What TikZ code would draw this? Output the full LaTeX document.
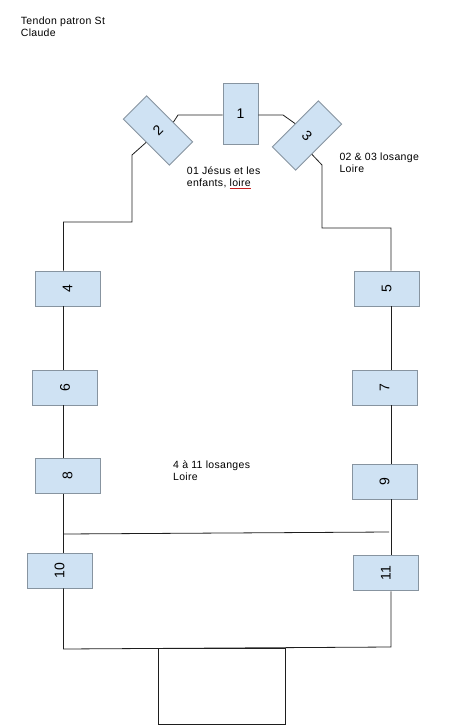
\documentclass[tikz,border=0pt]{standalone}
\usepackage{fontspec}
\usetikzlibrary{calc}
\setmainfont{Liberation Sans}
\newfontfamily\lblfont{Liberation Sans}[LetterSpace=3]
\definecolor{boxfill}{RGB}{207,226,243}
\definecolor{boxborder}{RGB}{135,148,160}
\definecolor{wirecol}{RGB}{30,30,30}
\definecolor{squig}{RGB}{200,30,30}
\begin{document}
\begin{tikzpicture}[x=1pt,y=-1pt,
  box/.style={draw=boxborder, fill=boxfill, line width=0.9pt, inner sep=0pt, font=\fontsize{14}{16}\selectfont},
  vbox/.style={box, minimum width=65pt, minimum height=35pt},
  pbox/.style={box, minimum width=33pt, minimum height=65pt},
  wire/.style={draw=wirecol, line width=0.8pt},
  lbl/.style={anchor=north west, inner sep=0pt, align=left, font=\lblfont\fontsize{10.5}{12}\selectfont}]
\useasboundingbox (0,0) rectangle (465,725);

% top boxes
\node[box, minimum width=35pt, minimum height=61pt] (b1) at (240.5,113.5) {1};
\node[pbox, rotate=45] (b2) at (158,130.5) {2};
\node[pbox, rotate=-45] (b3) at (307,135.5) {3};

% side boxes
\node[vbox] (b4) at (67.5,288.5) {\rotatebox{90}{4}};
\node[vbox] (b5) at (386.7,288.5) {\rotatebox{90}{5}};
\node[vbox] (b6) at (65,387.5) {\rotatebox{90}{6}};
\node[vbox] (b7) at (384.5,387.5) {\rotatebox{90}{7}};
\node[vbox] (b8) at (67.5,476) {\rotatebox{90}{8}};
\node[vbox] (b9) at (384.5,481.5) {\rotatebox{90}{9}};
\node[vbox] (b10) at (59.5,570.5) {\rotatebox{90}{10}};
\node[vbox] (b11) at (385.8,573.3) {\rotatebox{90}{11}};

% bottom rectangle
\node[draw=wirecol, line width=0.8pt, minimum width=127pt, minimum height=76pt, inner sep=0pt] (b12) at (221.5,686) {};

% helper coordinates
\coordinate (L) at (63.5,0);
\coordinate (R) at (391,0);
\coordinate (k1) at (178,115);
\coordinate (k2) at (132,155);
\coordinate (h2) at (132,222);
\coordinate (k3) at (283,115);
\coordinate (k4) at (322,165);
\coordinate (h3) at (322,228);
\coordinate (CL) at (63.5,534);
\coordinate (CR) at (389,532);
\coordinate (BL) at (63.5,649);
\coordinate (BR) at (391,647);

% connectors
\draw[wire] ($(b2.east)!0.15!(b2.south east)$) -- (k1) -- (k1 -| b1.west);
\draw[wire] (b1.east |- k3) -- (k3) -- (b3.west);
\draw[wire] (b2.west) -- (k2) -- (h2) -- (h2 -| L) -- (b4.north -| L);
\draw[wire] ($(b3.east)!0.3!(b3.south east)$) -- (k4) -- (h3) -- (h3 -| R) -- (b5.north -| R);
\draw[wire] (b4.south -| L) -- (b6.north -| L);
\draw[wire] (b6.south -| L) -- (b8.north -| L);
\draw[wire] (b8.south -| L) -- (b10.north -| L);
\draw[wire] (b5.south -| R) -- (b7.north -| R);
\draw[wire] (b7.south -| R) -- (b9.north -| R);
\draw[wire] (b9.south -| R) -- (b11.north -| R);
\draw[wire] (CL) -- (CR);
\draw[wire] (b10.south -| L) -- (BL) -- (BR) -- (b11.south -| R);

% labels
\node[lbl] (t0) at (20.7,16.3) {Tendon patron St\\Claude};
\node[lbl] (t1) at (186.7,167) {01 Jésus et les\\enfants, {\color{squig}$\underline{\hbox{\color{black}loire}}$}};
\node[lbl] (t2) at (339.3,153) {02 \& 03 losange\\Loire};
\node[lbl] (t3) at (173,461) {4 à 11 losanges\\Loire};
\end{tikzpicture}
\end{document}
